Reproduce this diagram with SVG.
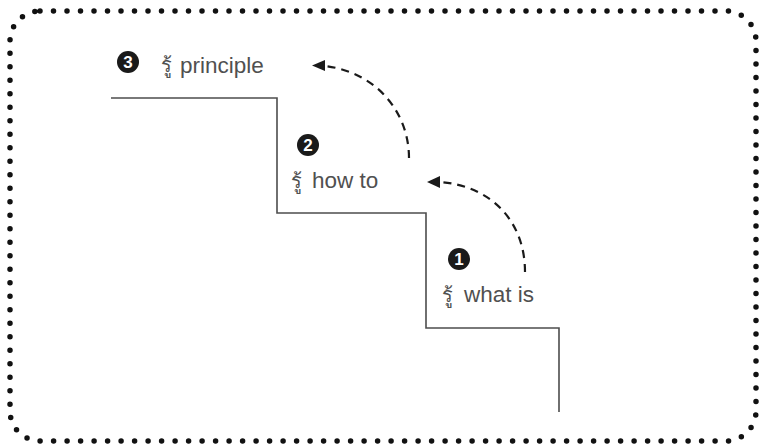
<svg xmlns="http://www.w3.org/2000/svg" width="759" height="447" viewBox="0 0 759 447">
<style>
.lbl{font-family:"Liberation Sans",Arial,sans-serif;font-size:22.5px;fill:#505050}
.thai{font-family:"Liberation Sans","Noto Sans","DejaVu Sans",sans-serif;font-size:20px;fill:#505050}
.num{font-family:"Liberation Sans",Arial,sans-serif;font-size:17px;font-weight:bold;fill:#fff;text-anchor:middle}
.badge{fill:#1a1a1a}
.stair{fill:none;stroke:#4d4d4d;stroke-width:1.6}
.arc{fill:none;stroke:#1a1a1a;stroke-width:2.2;stroke-dasharray:8 6}
</style>
<rect x="10" y="11" width="746" height="430" rx="30" ry="30" fill="none" stroke="#111" stroke-width="5.5" stroke-linecap="round" stroke-dasharray="0 13.5"/>
<path class="stair" d="M111,98 H277 V213 H426 V328 H559 V412"/>
<g id="connectors">
<path class="arc" d="M525,272 C525,222 492,186 440,182"/>
<path d="M440,176 L427,182 L440,188 z" fill="#1a1a1a"/>
<path class="arc" d="M409,158 C409,112 376,72 325,66"/>
<path d="M325,60 L312,65.5 L325,71 z" fill="#1a1a1a"/>
</g>
<g id="step3">
<circle class="badge" cx="128" cy="62" r="11"/>
<text class="num" x="128" y="68">3</text>
<text class="thai" x="161" y="72">รู้</text>
<text class="lbl" x="180" y="73">principle</text>
</g>
<g id="step2">
<circle class="badge" cx="308" cy="145" r="11"/>
<text class="num" x="308" y="151">2</text>
<text class="thai" x="291" y="188">รู้</text>
<text class="lbl" x="312" y="188">how to</text>
</g>
<g id="step1">
<circle class="badge" cx="459" cy="259" r="11"/>
<text class="num" x="459" y="265">1</text>
<text class="thai" x="442" y="302">รู้</text>
<text class="lbl" x="464" y="302">what is</text>
</g>
</svg>
